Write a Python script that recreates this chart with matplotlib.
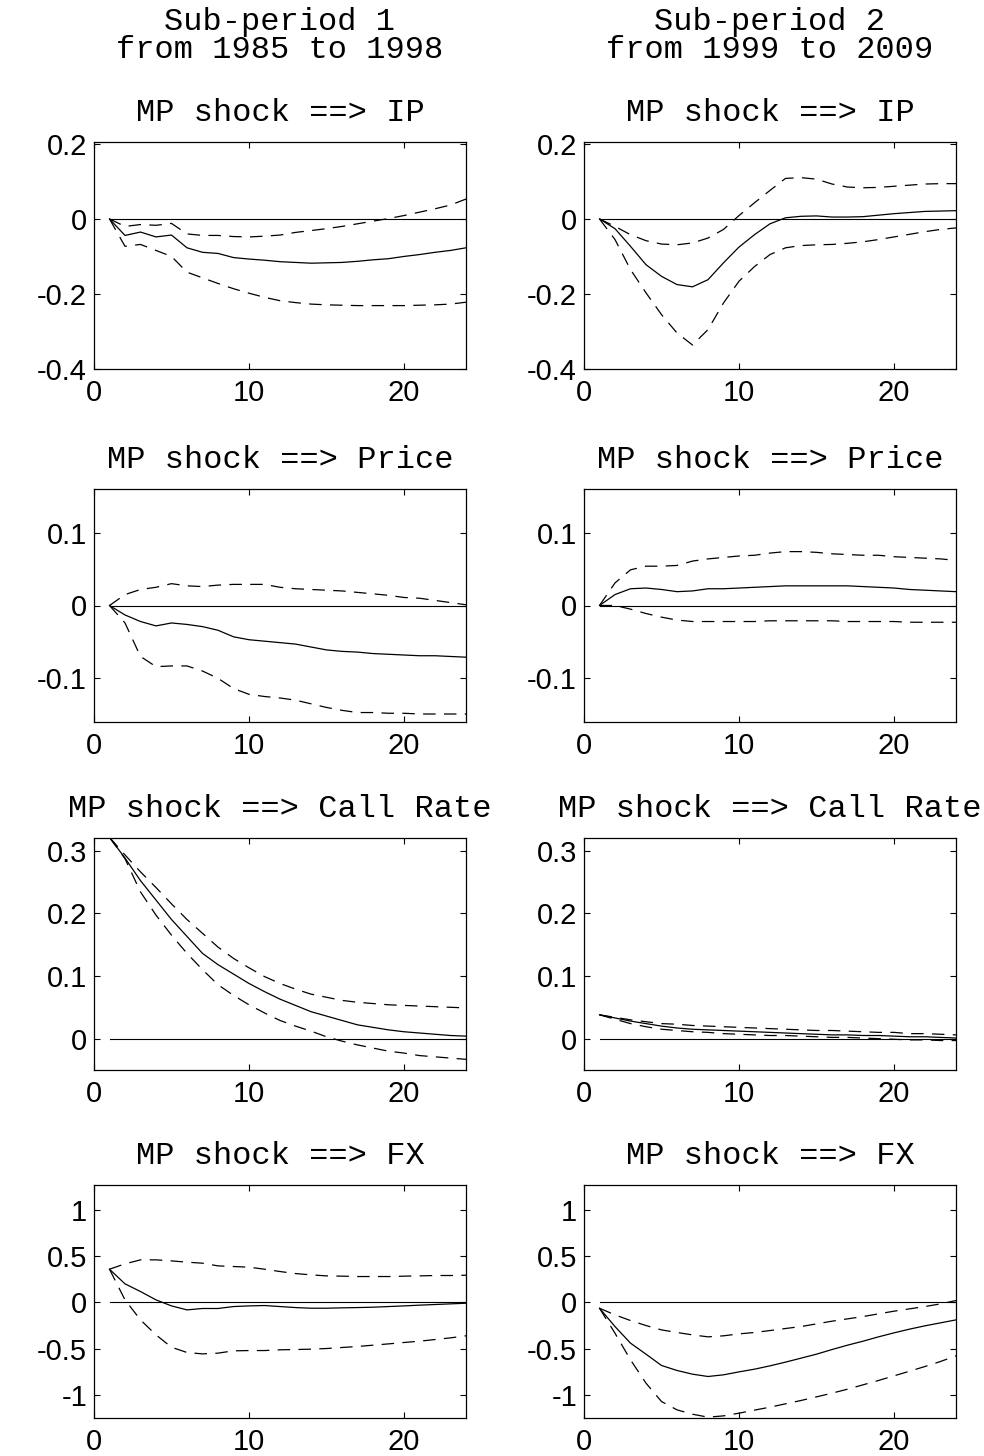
import matplotlib
matplotlib.use("Agg")
import matplotlib.pyplot as plt

# --------------------------------------------------
# DATA (read off the impulse responses, horizon 1..24)
# --------------------------------------------------

horizon = list(range(1, 25))

# MP shock ==> IP
ip1_mid = [0, -0.044, -0.035, -0.048, -0.043, -0.077, -0.089, -0.092, -0.103, -0.107, -0.110, -0.114,
           -0.116, -0.118, -0.117, -0.116, -0.113, -0.109, -0.106, -0.100, -0.095, -0.089, -0.084, -0.077]
ip1_up = [0, -0.020, -0.015, -0.017, -0.012, -0.040, -0.044, -0.044, -0.047, -0.048, -0.046, -0.043,
          -0.036, -0.031, -0.026, -0.020, -0.013, -0.006, 0.001, 0.009, 0.018, 0.027, 0.037, 0.053]
ip1_lo = [0, -0.073, -0.068, -0.084, -0.100, -0.142, -0.157, -0.172, -0.186, -0.198, -0.209, -0.218,
          -0.223, -0.227, -0.229, -0.230, -0.231, -0.231, -0.231, -0.231, -0.230, -0.229, -0.227, -0.222]

ip2_mid = [0, -0.026, -0.073, -0.122, -0.153, -0.175, -0.181, -0.162, -0.117, -0.075, -0.042, -0.013,
           0.003, 0.007, 0.008, 0.005, 0.005, 0.006, 0.010, 0.014, 0.017, 0.020, 0.021, 0.022]
ip2_up = [0, -0.020, -0.042, -0.058, -0.067, -0.069, -0.064, -0.051, -0.028, 0.009, 0.043, 0.076,
          0.108, 0.110, 0.106, 0.093, 0.085, 0.083, 0.084, 0.087, 0.090, 0.093, 0.094, 0.094]
ip2_lo = [0, -0.055, -0.135, -0.197, -0.255, -0.304, -0.336, -0.295, -0.224, -0.166, -0.127, -0.095,
          -0.077, -0.071, -0.069, -0.068, -0.065, -0.061, -0.055, -0.048, -0.041, -0.034, -0.028, -0.024]

# MP shock ==> Price
pr1_mid = [0, -0.013, -0.022, -0.028, -0.024, -0.026, -0.029, -0.034, -0.043, -0.047, -0.049, -0.051,
           -0.053, -0.057, -0.061, -0.063, -0.064, -0.066, -0.067, -0.068, -0.069, -0.069, -0.070, -0.071]
pr1_up = [0, 0.015, 0.022, 0.025, 0.030, 0.027, 0.026, 0.028, 0.029, 0.029, 0.029, 0.025,
          0.023, 0.022, 0.021, 0.020, 0.018, 0.016, 0.014, 0.011, 0.010, 0.007, 0.004, 0.001]
pr1_lo = [0, -0.024, -0.070, -0.084, -0.083, -0.083, -0.090, -0.100, -0.114, -0.122, -0.125, -0.127,
          -0.130, -0.135, -0.140, -0.144, -0.147, -0.147, -0.148, -0.148, -0.149, -0.149, -0.149, -0.149]

pr2_mid = [0, 0.015, 0.023, 0.024, 0.022, 0.019, 0.020, 0.023, 0.023, 0.024, 0.025, 0.026,
           0.027, 0.027, 0.027, 0.027, 0.027, 0.026, 0.025, 0.024, 0.022, 0.021, 0.020, 0.019]
pr2_up = [0, 0.031, 0.049, 0.054, 0.054, 0.055, 0.061, 0.064, 0.066, 0.068, 0.069, 0.072,
          0.074, 0.074, 0.073, 0.071, 0.070, 0.069, 0.069, 0.067, 0.066, 0.065, 0.064, 0.062]
pr2_lo = [0, 0.000, -0.005, -0.011, -0.016, -0.020, -0.022, -0.022, -0.022, -0.022, -0.022, -0.021,
          -0.021, -0.021, -0.021, -0.021, -0.022, -0.022, -0.022, -0.022, -0.023, -0.023, -0.023, -0.023]

# MP shock ==> Call Rate
cr1_mid = [0.321, 0.288, 0.252, 0.221, 0.190, 0.163, 0.136, 0.118, 0.103, 0.088, 0.075, 0.063,
           0.053, 0.043, 0.036, 0.029, 0.022, 0.018, 0.014, 0.011, 0.009, 0.007, 0.005, 0.004]
cr1_up = [0.321, 0.293, 0.266, 0.241, 0.215, 0.190, 0.168, 0.146, 0.128, 0.113, 0.099, 0.088,
          0.079, 0.071, 0.066, 0.061, 0.058, 0.056, 0.054, 0.053, 0.052, 0.051, 0.050, 0.049]
cr1_lo = [0.321, 0.287, 0.234, 0.197, 0.165, 0.136, 0.110, 0.086, 0.069, 0.054, 0.041, 0.029,
          0.020, 0.012, 0.003, -0.004, -0.010, -0.015, -0.020, -0.023, -0.027, -0.029, -0.031, -0.033]

cr2_mid = [0.038, 0.033, 0.028, 0.024, 0.020, 0.017, 0.015, 0.014, 0.013, 0.012, 0.011, 0.010,
           0.009, 0.008, 0.007, 0.006, 0.006, 0.005, 0.005, 0.004, 0.003, 0.003, 0.002, 0.001]
cr2_up = [0.038, 0.034, 0.030, 0.027, 0.024, 0.023, 0.021, 0.020, 0.019, 0.018, 0.017, 0.016,
          0.015, 0.014, 0.013, 0.013, 0.012, 0.011, 0.010, 0.010, 0.008, 0.008, 0.007, 0.006]
cr2_lo = [0.038, 0.031, 0.024, 0.019, 0.015, 0.013, 0.011, 0.010, 0.008, 0.007, 0.006, 0.005,
          0.005, 0.004, 0.003, 0.002, 0.002, 0.001, 0.000, -0.001, -0.002, -0.002, -0.003, -0.003]

# MP shock ==> FX
fx1_mid = [0.356, 0.198, 0.115, 0.025, -0.040, -0.083, -0.068, -0.068, -0.047, -0.040, -0.036, -0.047,
           -0.058, -0.065, -0.065, -0.061, -0.058, -0.054, -0.047, -0.040, -0.032, -0.025, -0.018, -0.011]
fx1_up = [0.356, 0.414, 0.457, 0.457, 0.446, 0.432, 0.421, 0.392, 0.385, 0.378, 0.356, 0.331,
          0.309, 0.295, 0.284, 0.281, 0.277, 0.277, 0.277, 0.281, 0.284, 0.288, 0.288, 0.291]
fx1_lo = [0.356, 0.025, -0.191, -0.353, -0.486, -0.543, -0.558, -0.550, -0.525, -0.522, -0.522, -0.514,
          -0.511, -0.507, -0.500, -0.489, -0.478, -0.464, -0.450, -0.435, -0.421, -0.403, -0.385, -0.363]

fx2_mid = [-0.065, -0.263, -0.442, -0.561, -0.683, -0.737, -0.777, -0.802, -0.784, -0.752, -0.723, -0.687,
           -0.647, -0.604, -0.561, -0.511, -0.464, -0.421, -0.374, -0.331, -0.291, -0.255, -0.223, -0.191]
fx2_up = [-0.065, -0.137, -0.198, -0.252, -0.299, -0.327, -0.353, -0.374, -0.363, -0.342, -0.327, -0.306,
          -0.284, -0.263, -0.234, -0.205, -0.180, -0.155, -0.126, -0.097, -0.072, -0.047, -0.018, 0.018]
fx2_lo = [-0.065, -0.335, -0.622, -0.874, -1.072, -1.162, -1.209, -1.241, -1.227, -1.198, -1.165, -1.133,
          -1.097, -1.061, -1.022, -0.982, -0.939, -0.892, -0.845, -0.795, -0.745, -0.694, -0.640, -0.579]

variables = ["IP", "Price", "Call Rate", "FX"]
periods = [("Sub-period 1", "from 1985 to 1998"), ("Sub-period 2", "from 1999 to 2009")]

responses = [
    [(ip1_mid, ip1_up, ip1_lo), (ip2_mid, ip2_up, ip2_lo)],
    [(pr1_mid, pr1_up, pr1_lo), (pr2_mid, pr2_up, pr2_lo)],
    [(cr1_mid, cr1_up, cr1_lo), (cr2_mid, cr2_up, cr2_lo)],
    [(fx1_mid, fx1_up, fx1_lo), (fx2_mid, fx2_up, fx2_lo)],
]

y_limits = [(-0.4, 0.205), (-0.16, 0.16), (-0.05, 0.32), (-1.25, 1.265)]
y_ticks = [[-0.4, -0.2, 0, 0.2], [-0.1, 0, 0.1], [0, 0.1, 0.2, 0.3], [-1, -0.5, 0, 0.5, 1]]
y_ticklabels = [["-0.4", "-0.2", "0", "0.2"], ["-0.1", "0", "0.1"],
                ["0", "0.1", "0.2", "0.3"], ["-1", "-0.5", "0", "0.5", "1"]]
x_ticks = [0, 10, 20]

# --------------------------------------------------
# FIGURE
# --------------------------------------------------

plt.rcParams["lines.scale_dashes"] = False
plt.rcParams["axes.unicode_minus"] = False

W, H = 984, 1456
fig = plt.figure(figsize=(W / 100, H / 100), dpi=100)

mono = "Liberation Mono"
sans = "Liberation Sans"

# pixel boxes of the axes (top, bottom) per row, left edges per column
row_top = [142, 489, 838, 1185]
row_bot = [369, 722, 1070, 1418]
col_left = [94, 584]
col_width = 372

for r in range(4):
    for c in range(2):
        left = col_left[c] / W
        bottom = 1 - row_bot[r] / H
        height = (row_bot[r] - row_top[r]) / H
        ax = fig.add_axes([left, bottom, col_width / W, height])

        mid, up, lo = responses[r][c]
        ax.plot(horizon, [0] * len(horizon), color="black", lw=0.8)
        ax.plot(horizon, mid, color="black", lw=0.9)
        ax.plot(horizon, up, color="black", lw=0.9, linestyle=(0, (9, 6)))
        ax.plot(horizon, lo, color="black", lw=0.9, linestyle=(0, (9, 6)))

        ax.set_xlim(0, 24)
        ax.set_ylim(y_limits[r])
        ax.set_xticks(x_ticks)
        ax.set_xticklabels([str(t) for t in x_ticks])
        ax.set_yticks(y_ticks[r])
        ax.set_yticklabels(y_ticklabels[r])

        ax.tick_params(direction="in", length=4, width=0.8, top=True, right=True,
                       labelsize=21, pad=5)
        ax.tick_params(axis="x", pad=7)
        for lab in ax.get_xticklabels() + ax.get_yticklabels():
            lab.set_family(sans)
        for s in ax.spines.values():
            s.set_linewidth(0.9)

        ax.set_title("MP shock ==> " + variables[r], family=mono, fontsize=23, pad=15)

for c in range(2):
    cx = (col_left[c] + col_width / 2) / W
    fig.text(cx, 1 - 22 / H, periods[c][0], family=mono, fontsize=23, ha="center", va="center")
    fig.text(cx, 1 - 50 / H, periods[c][1], family=mono, fontsize=23, ha="center", va="center")

fig.savefig("out.png", dpi=100)
